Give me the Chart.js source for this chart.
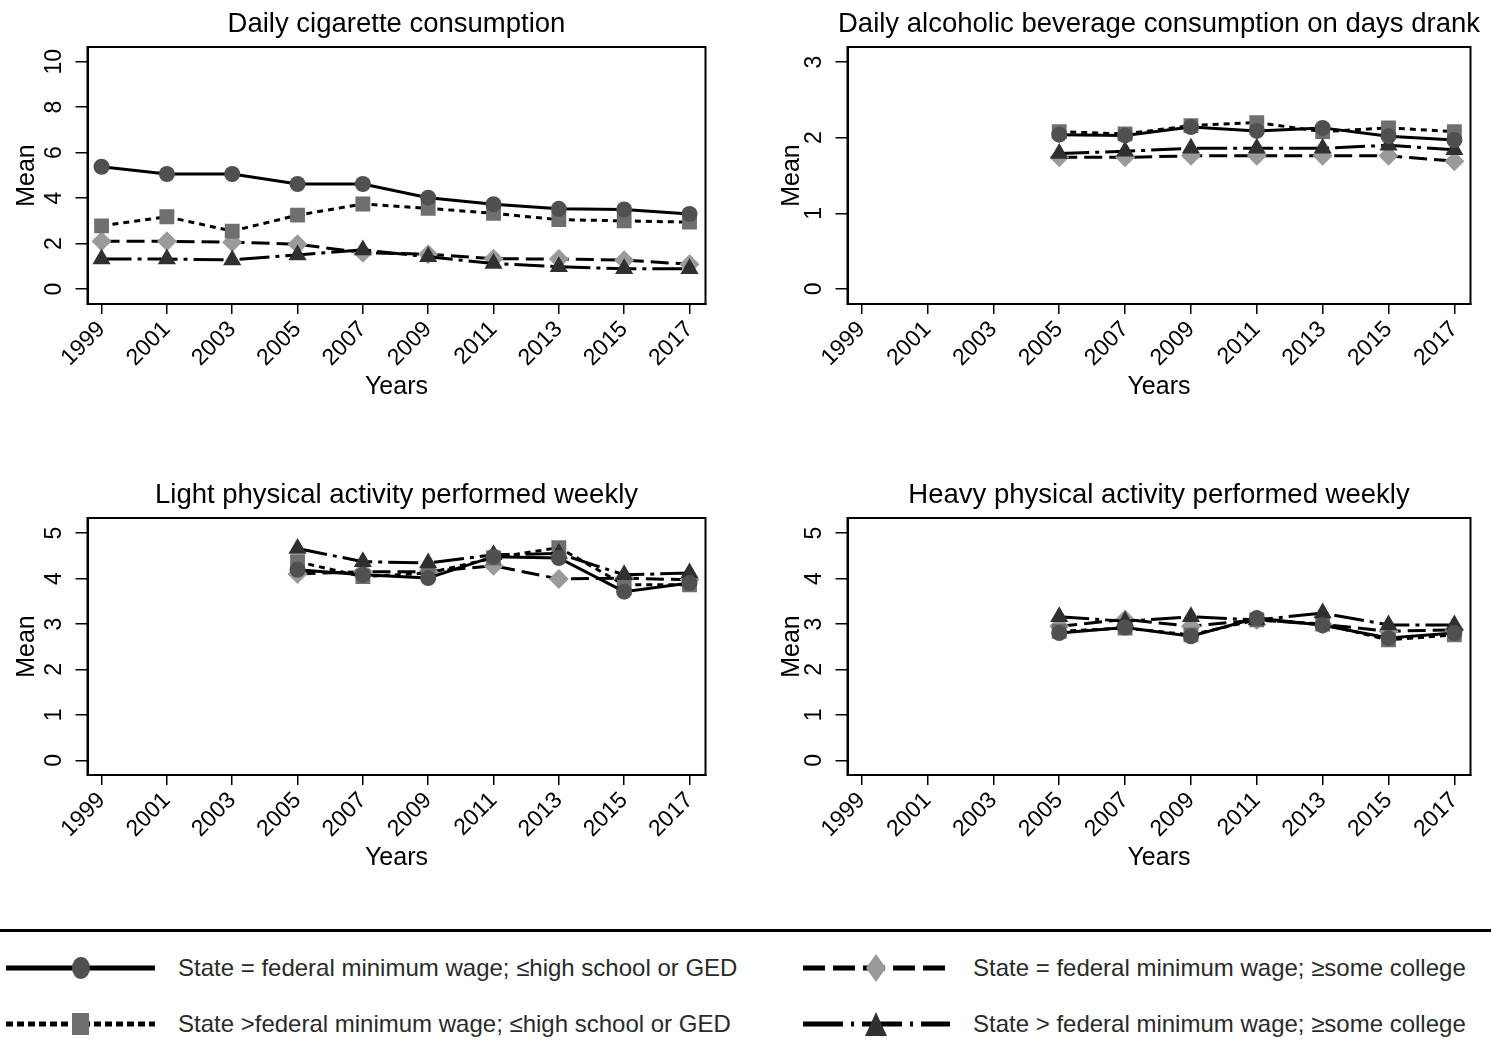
<!DOCTYPE html>
<html><head><meta charset="utf-8">
<script src="https://cdn.jsdelivr.net/npm/chart.js@4.4.1/dist/chart.umd.min.js"></script>
<style>
html,body{margin:0;padding:0;background:#fff;}
body{width:1491px;height:1057px;overflow:hidden;position:relative;font-family:"Liberation Sans",Arial,sans-serif;}
.panel{position:absolute;}
#legendLine{position:absolute;left:0;top:929px;width:1491px;height:0;border-top:3px solid #000;}
.lg{position:absolute;}
.lt{position:absolute;font-size:24px;color:#2a2a2a;line-height:28px;white-space:nowrap;}
</style></head><body>
<div class="panel" style="left:0;top:0"><canvas id="c1" width="750" height="420"></canvas></div>
<div class="panel" style="left:760px;top:0"><canvas id="c2" width="731" height="420"></canvas></div>
<div class="panel" style="left:0;top:471px"><canvas id="c3" width="750" height="420"></canvas></div>
<div class="panel" style="left:760px;top:471px"><canvas id="c4" width="731" height="420"></canvas></div>

<div id="legendLine"></div>
<svg class="lg" style="left:0;top:950px" width="170" height="36">
  <line x1="6" y1="18" x2="155" y2="18" stroke="#000" stroke-width="5"/>
  <ellipse cx="81" cy="18" rx="9" ry="11" fill="#505050"/>
</svg>
<div class="lt" id="lt0" style="left:178px;top:954px"></div>
<svg class="lg" style="left:0;top:1006px" width="170" height="36">
  <line x1="6" y1="18" x2="155" y2="18" stroke="#000" stroke-width="5" stroke-dasharray="7 4"/>
  <rect x="72" y="7" width="17" height="22" fill="#6f6f6f"/>
</svg>
<div class="lt" id="lt1" style="left:178px;top:1010px"></div>
<svg class="lg" style="left:795px;top:950px" width="170" height="36">
  <line x1="8" y1="18" x2="155" y2="18" stroke="#000" stroke-width="5" stroke-dasharray="22 8"/>
  <polygon points="81,4 91,18 81,32 71,18" fill="#9a9a9a"/>
</svg>
<div class="lt" id="lt2" style="left:973px;top:954px"></div>
<svg class="lg" style="left:795px;top:1006px" width="170" height="36">
  <line x1="8" y1="18" x2="155" y2="18" stroke="#000" stroke-width="5" stroke-dasharray="40 8 3 8"/>
  <polygon points="81,6 92,30 70,30" fill="#303030"/>
</svg>
<div class="lt" id="lt3" style="left:973px;top:1010px"></div>

<script>
// ---------------- data ----------------
const years = [1999, 2001, 2003, 2005, 2007, 2009, 2011, 2013, 2015, 2017];
const seriesLabels = [
  "State = federal minimum wage; \u2264high school or GED",
  "State >federal minimum wage; \u2264high school or GED",
  "State = federal minimum wage; \u2265some college",
  "State > federal minimum wage; \u2265some college"
];
const panelTitles = [
  "Daily cigarette consumption",
  "Daily alcoholic beverage consumption on days drank",
  "Light physical activity performed weekly",
  "Heavy physical activity performed weekly"
];
const xTitle = "Years";
const yTitle = "Mean";
const yTicksCig = [0, 2, 4, 6, 8, 10];
const yTicksAlc = [0, 1, 2, 3];
const yTicksPA = [0, 1, 2, 3, 4, 5];

// Daily cigarette consumption
const cigEqHS  = [5.38, 5.06, 5.06, 4.62, 4.62, 4.02, 3.73, 3.53, 3.50, 3.30];
const cigGtHS  = [2.78, 3.18, 2.55, 3.25, 3.74, 3.55, 3.33, 3.05, 3.00, 2.94];
const cigEqCol = [2.10, 2.10, 2.06, 1.97, 1.60, 1.53, 1.33, 1.32, 1.27, 1.09];
const cigGtCol = [1.32, 1.32, 1.28, 1.50, 1.72, 1.42, 1.12, 0.98, 0.89, 0.89];

// Daily alcoholic beverage consumption on days drank
const alcEqHS  = [null, null, null, 2.04, 2.03, 2.14, 2.09, 2.13, 2.02, 1.97];
const alcGtHS  = [null, null, null, 2.08, 2.05, 2.16, 2.20, 2.08, 2.13, 2.08];
const alcEqCol = [null, null, null, 1.74, 1.74, 1.76, 1.76, 1.76, 1.76, 1.69];
const alcGtCol = [null, null, null, 1.79, 1.82, 1.86, 1.86, 1.86, 1.90, 1.84];

// Light physical activity performed weekly
const lpaEqHS  = [null, null, null, 4.19, 4.08, 4.01, 4.48, 4.45, 3.71, 3.90];
const lpaGtHS  = [null, null, null, 4.37, 4.04, 4.12, 4.45, 4.68, 3.86, 3.86];
const lpaEqCol = [null, null, null, 4.10, 4.15, 4.15, 4.28, 3.99, 4.01, 3.97];
const lpaGtCol = [null, null, null, 4.66, 4.37, 4.34, 4.52, 4.55, 4.08, 4.12];

// Heavy physical activity performed weekly
const hpaEqHS  = [null, null, null, 2.80, 2.92, 2.73, 3.13, 2.97, 2.69, 2.80];
const hpaGtHS  = [null, null, null, 2.84, 2.91, 2.76, 3.09, 3.00, 2.65, 2.76];
const hpaEqCol = [null, null, null, 2.95, 3.10, 2.95, 3.09, 2.99, 2.84, 2.87];
const hpaGtCol = [null, null, null, 3.16, 3.06, 3.16, 3.09, 3.24, 2.98, 2.98];

// ---------------- styling ----------------
const FONT = '"Liberation Sans", Arial, sans-serif';
const seriesStyles = [
  {pointStyle: 'circle',   color: '#505050', radius: 8,    dash: [],            order: 1},
  {pointStyle: 'rect',     color: '#6f6f6f', radius: 10.5, dash: [6, 5],        order: 3},
  {pointStyle: 'rectRot',  color: '#9a9a9a', radius: 10,   dash: [18, 7],       order: 4},
  {pointStyle: 'triangle', color: '#303030', radius: 10.5, dash: [30, 6, 4, 6], order: 2}
];

seriesLabels.forEach((t, i) => { document.getElementById('lt' + i).textContent = t; });

const decor = {
  id: 'decor',
  afterDraw(chart, args, opts) {
    const {ctx, chartArea: a, scales: {y}} = chart;
    ctx.save();
    ctx.strokeStyle = '#000';
    ctx.lineWidth = 2;
    ctx.strokeRect(a.left, a.top, a.right - a.left, a.bottom - a.top);
    ctx.fillStyle = '#000';
    ctx.textAlign = 'center';
    ctx.textBaseline = 'middle';
    ctx.font = '27.5px ' + FONT;
    ctx.fillText(opts.title, (a.left + a.right) / 2, 24);
    ctx.font = '23px ' + FONT;
    y.ticks.forEach(t => {
      const py = y.getPixelForValue(t.value);
      ctx.save();
      ctx.translate(a.left - 33, py);
      ctx.rotate(-Math.PI / 2);
      ctx.fillText(String(t.value), 0, 0);
      ctx.restore();
    });
    ctx.restore();
  }
};

function makeChart(id, title, seriesArr, yMin, yMax, yTicks, padRight, yTitlePad) {
  const datasets = seriesArr.map((vals, i) => {
    const s = seriesStyles[i];
    return {
      label: seriesLabels[i],
      data: years.map((yr, k) => ({x: yr, y: vals[k]})),
      borderColor: '#000',
      borderWidth: 3,
      borderDash: s.dash,
      pointStyle: s.pointStyle,
      pointRadius: s.radius,
      pointHoverRadius: s.radius,
      pointBackgroundColor: s.color,
      pointBorderColor: s.color,
      pointBorderWidth: 0,
      fill: false,
      tension: 0,
      order: s.order,
      spanGaps: false
    };
  });
  return new Chart(document.getElementById(id), {
    type: 'line',
    data: {datasets},
    plugins: [decor],
    options: {
      responsive: false,
      animation: false,
      devicePixelRatio: 1,
      layout: {padding: {top: 47, right: padRight, left: 0, bottom: 0}},
      plugins: {
        legend: {display: false},
        tooltip: {enabled: false},
        title: {display: false},
        decor: {title}
      },
      scales: {
        x: {
          type: 'linear',
          min: 1998.57, max: 2017.49,
          afterBuildTicks: s => { s.ticks = years.map(v => ({value: v})); },
          grid: {drawOnChartArea: false, color: '#000', lineWidth: 1.5, tickLength: 10},
          border: {color: '#000', width: 2},
          ticks: {minRotation: 45, maxRotation: 45, autoSkip: false, color: '#000', padding: 2,
                  font: {size: 23, family: FONT}, callback: v => String(v)},
          title: {display: true, text: xTitle, color: '#000', font: {size: 25, family: FONT},
                  padding: {top: 0, bottom: 18}},
          afterFit: s => { s.height = 116; }
        },
        y: {
          min: yMin, max: yMax,
          afterBuildTicks: s => { s.ticks = yTicks.map(v => ({value: v})); },
          grid: {drawOnChartArea: false, color: '#000', lineWidth: 1.5, tickLength: 12},
          border: {color: '#000', width: 2},
          ticks: {display: false},
          title: {display: true, text: yTitle, color: '#000', font: {size: 25, family: FONT},
                  padding: {top: yTitlePad, bottom: 0}},
          afterFit: s => { s.width = 87.5; }
        }
      }
    }
  });
}

makeChart('c1', panelTitles[0], [cigEqHS, cigGtHS, cigEqCol, cigGtCol], -0.66, 10.65, yTicksCig, 44.5, 12);
makeChart('c2', panelTitles[1], [alcEqHS, alcGtHS, alcEqCol, alcGtCol], -0.2, 3.2, yTicksAlc, 20.5, 17);
makeChart('c3', panelTitles[2], [lpaEqHS, lpaGtHS, lpaEqCol, lpaGtCol], -0.32, 5.33, yTicksPA, 44.5, 12);
makeChart('c4', panelTitles[3], [hpaEqHS, hpaGtHS, hpaEqCol, hpaGtCol], -0.32, 5.33, yTicksPA, 20.5, 17);
</script>
</body></html>
